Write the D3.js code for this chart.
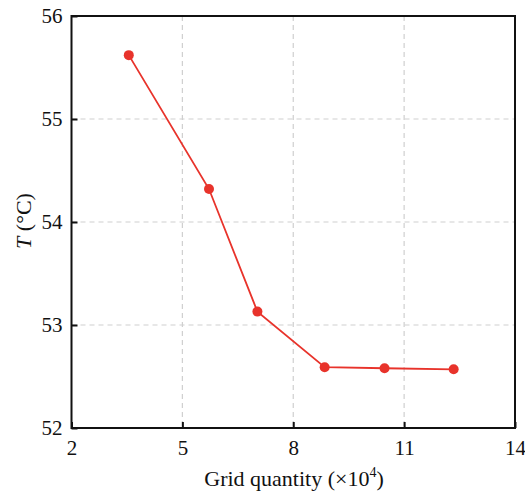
<!DOCTYPE html>
<html>
<head>
<meta charset="utf-8">
<script src="https://cdn.jsdelivr.net/npm/d3@7"></script>
<style>
  body { margin: 0; background: #fff; }
  svg text { font-family: "Liberation Serif", "Times New Roman", serif; fill: #111; }
</style>
</head>
<body>
<div id="chart"></div>
<script>
// grid size (x10^4) vs temperature
const gridQty = [3.55, 5.72, 7.03, 8.85, 10.47, 12.34];
const tempC = [55.62, 54.32, 53.13, 52.59, 52.58, 52.57];
const xTicks = [2, 5, 8, 11, 14];
const yTicks = [52, 53, 54, 55, 56];

const W = 525, H = 496;
const margin = { top: 16, right: 10, bottom: 68, left: 71.5 };
const width = W - margin.left - margin.right;
const height = H - margin.top - margin.bottom;

const svg = d3.select('#chart').append('svg')
    .attr('width', W)
    .attr('height', H);

const g = svg.append('g')
    .attr('transform', `translate(${margin.left}, ${margin.top})`);

const x = d3.scaleLinear().domain([2, 14]).range([0, width]);
const y = d3.scaleLinear().domain([52, 56]).range([height, 0]);

// dashed grid
g.selectAll('.vgrid')
    .data(xTicks.slice(1, -1))
    .enter().append('line')
    .attr('x1', d => x(d)).attr('x2', d => x(d))
    .attr('y1', 0).attr('y2', height)
    .attr('stroke', '#cfcfcf')
    .attr('stroke-width', 1.2)
    .attr('stroke-dasharray', '5,4');

g.selectAll('.hgrid')
    .data(yTicks.slice(1, -1))
    .enter().append('line')
    .attr('x1', 0).attr('x2', width)
    .attr('y1', d => y(d)).attr('y2', d => y(d))
    .attr('stroke', '#cfcfcf')
    .attr('stroke-width', 1.2)
    .attr('stroke-dasharray', '5,4');

// axes with inward ticks
const xAxis = g.append('g')
    .attr('transform', `translate(0, ${height})`)
    .call(d3.axisBottom(x).tickValues(xTicks).tickFormat(d3.format('d'))
        .tickSizeInner(-6).tickSizeOuter(0).tickPadding(12));
const yAxis = g.append('g')
    .call(d3.axisLeft(y).tickValues(yTicks).tickFormat(d3.format('d'))
        .tickSizeInner(-6).tickSizeOuter(0).tickPadding(9));

[xAxis, yAxis].forEach(ax => {
    ax.attr('font-family', '"Liberation Serif", serif').attr('font-size', 21);
    ax.select('.domain').remove();
    ax.selectAll('.tick line').attr('stroke', '#111').attr('stroke-width', 2);
    ax.selectAll('.tick text').attr('fill', '#111');
});
xAxis.selectAll('.tick text').attr('dy', '0.71em');

// frame
g.append('rect')
    .attr('width', width)
    .attr('height', height)
    .attr('fill', 'none')
    .attr('stroke', '#111')
    .attr('stroke-width', 2);

// line + markers
const line = d3.line()
    .x((d, i) => x(gridQty[i]))
    .y(d => y(d));

g.append('path')
    .datum(tempC)
    .attr('d', line)
    .attr('fill', 'none')
    .attr('stroke', '#e8332b')
    .attr('stroke-width', 1.8);

g.selectAll('.pt')
    .data(tempC)
    .enter().append('circle')
    .attr('cx', (d, i) => x(gridQty[i]))
    .attr('cy', d => y(d))
    .attr('r', 5)
    .attr('fill', '#e8332b');

// axis labels
const xl = svg.append('text')
    .attr('x', 294)
    .attr('y', 486)
    .attr('text-anchor', 'middle')
    .style('font-size', '22px');
xl.append('tspan').text('Grid quantity (\u00d710');
xl.append('tspan').attr('dy', -9).style('font-size', '14px').text('4');
xl.append('tspan').attr('dy', 9).text(')');

const yl = svg.append('text')
    .attr('transform', 'translate(31, 221) rotate(-90)')
    .attr('text-anchor', 'middle')
    .style('font-size', '22px');
yl.append('tspan').style('font-style', 'italic').text('T');
yl.append('tspan').text(' (\u00b0C)');
</script>
</body>
</html>
